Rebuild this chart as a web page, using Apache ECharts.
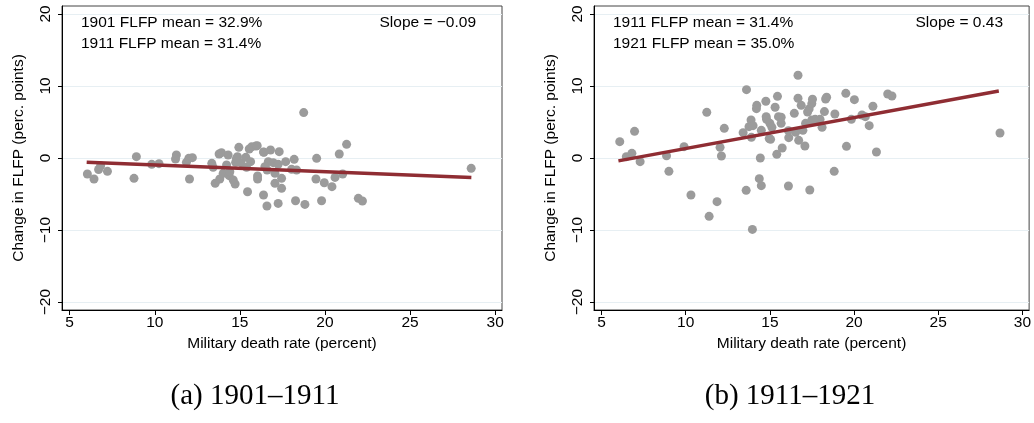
<!DOCTYPE html>
<html>
<head>
<meta charset="utf-8">
<script src="https://cdn.jsdelivr.net/npm/echarts@6/dist/echarts.min.js"></script>
<style>
  html, body { margin: 0; padding: 0; background: #fff; }
  #chart { width: 1034px; height: 423px; }
</style>
</head>
<body>
<div id="chart"></div>
<script>
// panel (a): 1901-1911, military death rate (%) vs change in FLFP (pp)
const deathA = [6.04, 6.43, 6.70, 6.82, 7.22, 8.92, 8.78, 9.82, 10.25, 11.27, 11.22, 11.86, 12.00, 12.21, 12.04,
  13.35, 13.78, 13.92, 13.43, 13.55, 13.82, 14.02, 14.22, 14.31, 14.37, 14.61, 14.72, 14.86, 14.94, 14.75,
  15.06, 15.35, 15.39, 15.45, 15.55, 15.63, 15.94, 14.41, 14.80, 15.69, 16.04, 16.04, 16.39, 16.59, 16.39,
  16.80, 16.67, 16.96, 16.60, 17.06, 17.06, 17.31, 17.25, 17.45, 17.45, 17.25, 17.69, 18.19, 18.04, 18.33,
  18.27, 18.82, 18.75, 19.51, 19.47, 19.96, 19.80, 20.41, 20.59, 20.84, 21.04, 21.27, 21.96, 22.20, 28.59,
  16.47, 16.02, 16.41];
const changeA = [-2.22, -2.92, -1.60, -1.07, -1.85, 0.19, -2.82, -0.88, -0.79, 0.42, -0.14, -0.60, -0.05, 0.05, -2.92,
  -0.74, 0.56, 0.74, -1.30, -3.52, -2.92, -2.13, -0.97, 0.42, -2.45, -3.06, -3.61, 0.19, 1.48, -0.60,
  -0.65, 0.09, -1.30, -4.68, 1.25, -0.51, 1.67, -1.90, -0.05, 1.55, -2.50, -2.92, 0.83, -6.67, -5.14,
  1.11, -0.51, -0.65, -1.67, -2.13, -3.52, 0.88, -0.88, -2.82, -4.21, -6.30, -0.51, -0.19, -1.57, -1.67,
  -5.93, -6.44, 6.30, -0.05, -2.92, -3.43, -5.93, -3.98, -2.69, 0.56, -2.22, 1.90, -5.60, -5.97, -1.44,
  -1.20, 1.71, 0.79];

// panel (b): 1911-1921
const deathB = [6.08, 6.96, 6.47, 6.80, 7.29, 8.86, 9.90, 9.00, 10.31, 11.25, 12.04, 12.12, 12.29, 11.39, 11.86,
  13.61, 13.41, 13.59, 13.96, 13.88, 13.76, 14.00, 13.90, 14.22, 14.20, 14.76, 14.37, 14.49, 14.43, 14.49,
  14.78, 14.80, 15.00, 15.12, 14.96, 15.04, 15.31, 15.45, 15.51, 15.67, 15.67, 15.41, 15.73, 16.10, 16.12,
  16.10, 16.45, 16.53, 16.67, 16.67, 16.86, 16.71, 16.96, 17.08, 17.12, 17.24, 17.33, 17.37, 17.49, 17.53,
  17.49, 17.69, 17.98, 18.10, 18.24, 18.37, 18.31, 18.86, 18.82, 19.55, 19.51, 19.84, 20.02, 20.47, 20.67,
  20.90, 21.12, 21.33, 22.00, 22.25, 28.67];
const changeB = [2.27, 3.70, 0.19, 0.65, -0.51, 0.32, 1.57, -1.85, -5.14, 6.34, 1.48, 0.28, 4.12, -8.10, -6.06,
  9.49, 3.52, -4.49, -9.91, 5.28, 4.35, 4.49, 2.87, 7.31, 6.85, 7.87, -2.87, -3.84, 0.00, 3.84,
  5.74, 5.37, 4.81, 4.26, 2.69, 2.59, 7.04, 8.56, 5.74, 5.65, 4.81, 0.51, 1.39, -3.89, 2.82,
  3.80, 6.20, 3.56, 11.48, 8.29, 7.31, 2.45, 3.84, 1.67, 4.81, 6.39, 6.81, -4.44, 7.55, 8.15,
  5.28, 5.37, 5.37, 4.26, 6.44, 8.43, 8.19, 6.11, -1.85, 1.62, 8.98, 5.37, 8.10, 5.97, 5.74,
  4.49, 7.18, 0.83, 8.89, 8.61, 3.47];

// fitted lines (endpoints)
const fitX = [6.0, 28.6];
const fitA = [-0.6, -2.7];
const fitB = [-0.4, 9.3];

const xTicks = [5, 10, 15, 20, 25, 30];
const yTicks = [-20, -10, 0, 10, 20];

const sans = "'Liberation Sans', Arial, sans-serif";
const minus = v => String(v).replace('-', '\u2212');
const zip = (a, b) => a.map((v, i) => [v, b[i]]);

function xAxisFor(i) {
  return {
    type: 'value', gridIndex: i, min: 4.55, max: 30.4,
    name: 'Military death rate (percent)', nameLocation: 'middle', nameGap: 25,
    nameTextStyle: { color: '#000', fontFamily: sans, fontSize: 15.5 },
    axisLine: { onZero: false, lineStyle: { color: '#000', width: 1 } },
    axisTick: { customValues: xTicks, length: 5, lineStyle: { color: '#000' } },
    axisLabel: { customValues: xTicks, margin: 5, color: '#000', fontFamily: sans, fontSize: 15.5 },
    splitLine: { show: false }
  };
}
function yAxisFor(i) {
  return {
    type: 'value', gridIndex: i, min: -21.1, max: 21.1,
    name: 'Change in FLFP (perc. points)', nameLocation: 'middle', nameGap: 35,
    nameTextStyle: { color: '#000', fontFamily: sans, fontSize: 15.5 },
    axisLine: { show: true, onZero: false, lineStyle: { color: '#000', width: 1 } },
    axisTick: { show: true, customValues: yTicks, length: 4, lineStyle: { color: '#000' } },
    axisLabel: { customValues: yTicks, rotate: 90, margin: 8, color: '#000', fontFamily: sans, fontSize: 15.5, formatter: minus },
    splitLine: { show: true, lineStyle: { color: '#e7eff3', width: 1 } }
  };
}
function scatter(i, xs, ys) {
  return {
    type: 'scatter', xAxisIndex: i, yAxisIndex: i, data: zip(xs, ys),
    symbolSize: 9, itemStyle: { color: '#9b9b9b', opacity: 1 }, z: 2
  };
}
function fit(i, ys) {
  return {
    type: 'line', xAxisIndex: i, yAxisIndex: i, data: zip(fitX, ys),
    showSymbol: false, lineStyle: { color: '#8f2d33', width: 3.5 }, z: 3
  };
}
function label(x, y, s, align) {
  return {
    type: 'text', x: x, y: y,
    style: { text: s, fill: '#000', font: '15.5px ' + sans, align: align || 'left', verticalAlign: 'middle' }
  };
}
function caption(x, s) {
  return {
    type: 'text', x: x, y: 396,
    style: { text: s, fill: '#000', font: "29px 'Liberation Serif', serif", align: 'center', verticalAlign: 'middle' }
  };
}

const chart = echarts.init(document.getElementById('chart'));
chart.setOption({
  animation: false,
  backgroundColor: '#fff',
  grid: [
    { left: 62, top: 6, width: 440, height: 304, show: true, borderColor: '#444', borderWidth: 1 },
    { left: 594, top: 6, width: 438, height: 304, show: true, borderColor: '#444', borderWidth: 1 }
  ],
  xAxis: [xAxisFor(0), xAxisFor(1)],
  yAxis: [yAxisFor(0), yAxisFor(1)],
  series: [scatter(0, deathA, changeA), fit(0, fitA), scatter(1, deathB, changeB), fit(1, fitB)],
  graphic: [
    label(81, 23, '1901 FLFP mean = 32.9%'),
    label(81, 44, '1911 FLFP mean = 31.4%'),
    label(476, 23, 'Slope = \u22120.09', 'right'),
    label(613, 23, '1911 FLFP mean = 31.4%'),
    label(613, 44, '1921 FLFP mean = 35.0%'),
    label(1003, 23, 'Slope = 0.43', 'right'),
    caption(255, '(a) 1901\u20131911'),
    caption(790, '(b) 1911\u20131921')
  ]
});
</script>
</body>
</html>
